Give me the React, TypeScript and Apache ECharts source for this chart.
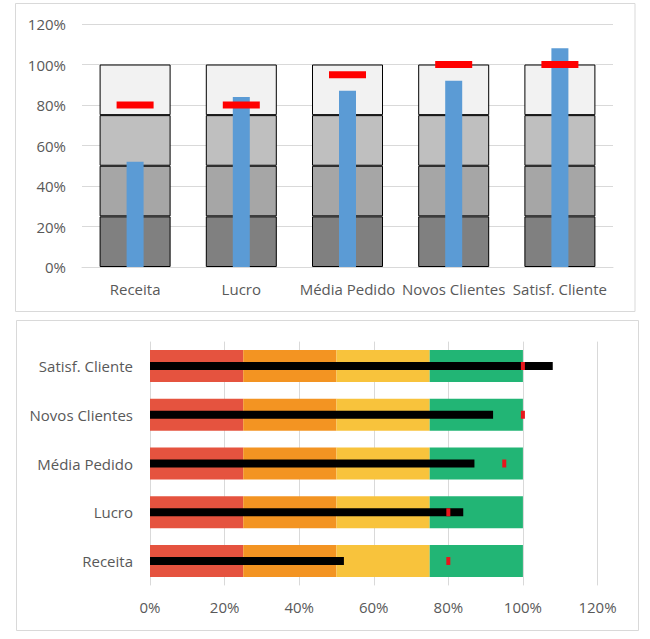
import React, { useEffect, useRef } from "react";
import * as echarts from "echarts";

const categories = ["Receita", "Lucro", "Média Pedido", "Novos Clientes", "Satisf. Cliente"];
const actualValues = [52, 84, 87, 92, 108];
const targetValues = [80, 80, 95, 100, 100];
const rangeBands = [25, 25, 25, 25];
const grayColors = ["#808080", "#a6a6a6", "#bfbfbf", "#f2f2f2"];
const heatColors = ["#e5533f", "#f39422", "#f8c33c", "#22b575"];

const FONT = "Open Sans";
const TXT = "#595959";
const GRID = "#d9d9d9";
const FS = 15;

export default function App() {
  const ref = useRef<HTMLDivElement>(null);
  useEffect(() => {
    if (!ref.current) return;
    const chart = echarts.init(ref.current, undefined, { renderer: "svg" });
    const pct = (v: number) => v + "%";
    const series: any[] = [];
    // top chart ranges
    rangeBands.forEach((b, i) => {
      series.push({
        type: "bar",
        xAxisIndex: 0,
        yAxisIndex: 0,
        stack: "rangesTop",
        barWidth: 71,
        data: categories.map(() => b),
        itemStyle: { color: grayColors[i], borderColor: "#000", borderWidth: 1 },
        silent: true,
        z: 2,
      });
    });
    series.push({
      type: "bar",
      xAxisIndex: 1,
      yAxisIndex: 0,
      barWidth: 17,
      data: actualValues,
      itemStyle: { color: "#5b9bd5" },
      z: 3,
    });
    series.push({
      type: "scatter",
      xAxisIndex: 0,
      yAxisIndex: 0,
      symbol: "rect",
      symbolSize: [37, 7],
      data: targetValues,
      itemStyle: { color: "#ff0000", opacity: 1 },
      z: 4,
    });
    // bottom chart ranges
    rangeBands.forEach((b, i) => {
      series.push({
        type: "bar",
        xAxisIndex: 2,
        yAxisIndex: 1,
        stack: "rangesBottom",
        barWidth: 32,
        data: categories.map(() => b),
        itemStyle: { color: heatColors[i] },
        silent: true,
        z: 2,
      });
    });
    series.push({
      type: "bar",
      xAxisIndex: 2,
      yAxisIndex: 2,
      barWidth: 8,
      data: actualValues,
      itemStyle: { color: "#000000" },
      z: 3,
    });
    series.push({
      type: "scatter",
      xAxisIndex: 2,
      yAxisIndex: 1,
      symbol: "rect",
      symbolSize: [4, 8],
      data: targetValues.map((v, i) => [v, categories[i]]),
      itemStyle: { color: "#e8161c", opacity: 1 },
      z: 4,
    });

    chart.setOption({
      animation: false,
      textStyle: { fontFamily: FONT },
      graphic: [
        { type: "rect", shape: { x: 15.5, y: 3.5, width: 619.5, height: 308 }, style: { fill: "none", stroke: GRID, lineWidth: 1 }, z: -10 },
        { type: "rect", shape: { x: 16.5, y: 320.5, width: 622, height: 310 }, style: { fill: "none", stroke: GRID, lineWidth: 1 }, z: -10 },
      ],
      grid: [
        { left: 82, top: 24, width: 531, height: 243 },
        { left: 150, top: 341.6, width: 447.5, height: 243.8 },
      ],
      xAxis: [
        {
          type: "category",
          gridIndex: 0,
          data: categories,
          axisLine: { show: true, lineStyle: { color: GRID } },
          axisTick: { show: false },
          axisLabel: { color: TXT, fontSize: FS, fontFamily: FONT, margin: 14, interval: 0 },
        },
        {
          type: "category",
          gridIndex: 0,
          data: categories,
          show: false,
        },
        {
          type: "value",
          gridIndex: 1,
          min: 0,
          max: 120,
          interval: 20,
          axisLine: { show: false },
          axisTick: { show: false },
          splitLine: { show: true, lineStyle: { color: GRID } },
          axisLabel: { color: TXT, fontSize: FS, fontFamily: FONT, margin: 14, formatter: pct },
        },
      ],
      yAxis: [
        {
          type: "value",
          gridIndex: 0,
          min: 0,
          max: 120,
          interval: 20,
          axisLine: { show: false },
          axisTick: { show: false },
          splitLine: { show: true, lineStyle: { color: GRID } },
          axisLabel: { color: TXT, fontSize: FS, fontFamily: FONT, margin: 16, formatter: pct },
        },
        {
          type: "category",
          gridIndex: 1,
          data: categories,
          axisLine: { show: false },
          axisTick: { show: false },
          axisLabel: { color: TXT, fontSize: FS, fontFamily: FONT, margin: 17 },
        },
        {
          type: "category",
          gridIndex: 1,
          data: categories,
          show: false,
        },
      ],
      series,
    });
    return () => chart.dispose();
  }, []);
  return (
    <div
      ref={ref}
      style={{ position: "fixed", left: 0, top: 0, width: 650, height: 639, background: "#fff" }}
    />
  );
}
